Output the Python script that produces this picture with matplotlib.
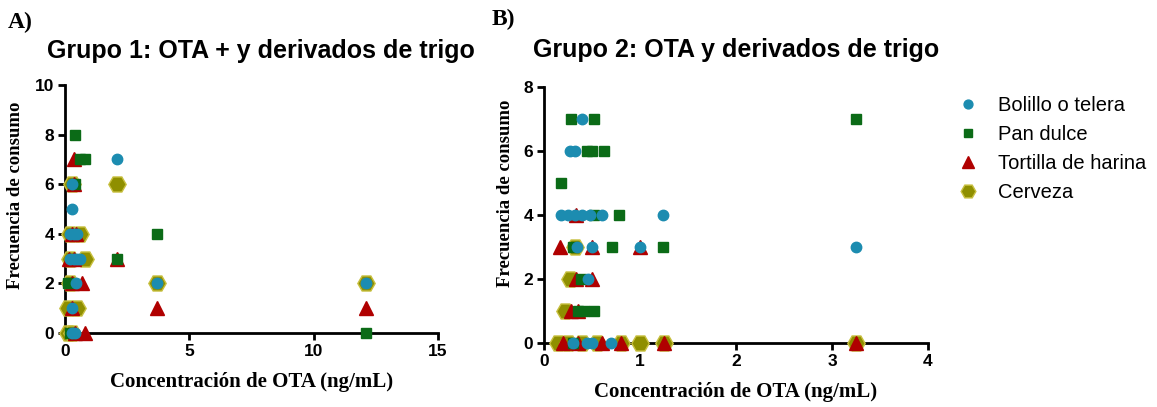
import matplotlib
matplotlib.use("Agg")
import matplotlib.pyplot as plt

# Grupo 1 (panel A): concentracion OTA (ng/mL) vs frecuencia de consumo
bolillo_a_x = [0.3, 0.3, 0.2, 0.35, 0.5, 0.2, 0.35, 0.5, 0.6, 0.45, 0.3, 0.3, 0.4, 2.1, 3.7, 12.1]
bolillo_a_y = [6, 5, 4, 4, 4, 3, 3, 3, 3, 2, 1, 0, 0, 7, 2, 2]
pan_a_x = [0.4, 0.6, 0.8, 0.4, 0.1, 0.2, 2.1, 3.7, 12.1]
pan_a_y = [8, 7, 7, 6, 2, 0, 3, 4, 0]
tortilla_a_x = [0.35, 0.35, 0.3, 0.45, 0.15, 0.35, 0.3, 0.7, 0.3, 0.4, 0.8, 2.1, 3.7, 12.1]
tortilla_a_y = [7, 6, 4, 4, 3, 3, 2, 2, 1, 0, 0, 3, 1, 1]
cerveza_a_x = [0.3, 0.2, 0.6, 0.2, 0.8, 0.2, 0.1, 0.5, 0.1, 0.3, 2.1, 3.7, 12.1]
cerveza_a_y = [6, 4, 4, 3, 3, 2, 1, 1, 0, 0, 6, 2, 2]

# Grupo 2 (panel B)
bolillo_b_x = [0.4, 0.27, 0.32, 0.18, 0.25, 0.32, 0.4, 0.48, 0.6, 1.24, 0.34, 0.5, 1.0, 3.25,
               0.46, 0.3, 0.45, 0.5, 0.7]
bolillo_b_y = [7, 6, 6, 4, 4, 4, 4, 4, 4, 4, 3, 3, 3, 3, 2, 0, 0, 0, 0]
pan_b_x = [0.28, 0.52, 3.25, 0.45, 0.5, 0.62, 0.18, 0.52, 0.78, 0.3, 0.71, 1.24, 0.38,
           0.35, 0.42, 0.52, 0.3]
pan_b_y = [7, 7, 7, 6, 6, 6, 5, 4, 4, 3, 3, 3, 2, 1, 1, 1, 0]
tortilla_b_x = [0.33, 0.17, 0.5, 1.0, 0.33, 0.5, 0.28, 0.35, 0.2, 0.35, 0.6, 0.8, 1.25, 3.25]
tortilla_b_y = [4, 3, 3, 3, 2, 2, 1, 1, 0, 0, 0, 0, 0, 0]
cerveza_b_x = [0.32, 0.27, 0.22, 0.15, 0.25, 0.4, 0.55, 0.8, 1.0, 1.25, 3.25]
cerveza_b_y = [3, 2, 1, 0, 0, 0, 0, 0, 0, 0, 0]

labels = ["Bolillo o telera", "Pan dulce", "Tortilla de harina", "Cerveza"]

# marker style per series: marker, size, face, edge, zorder
styles = [
    ("o", 7.5, "#1c8cb0", "#1c8cb0", 6),
    ("s", 7.5, "#0b6b17", "#0b6b17", 5),
    ("^", 10.5, "#b00000", "#b00000", 4),
    ("H", 12.5, "#8f8f00", "#c8c040", 3),
]

serif = ["Liberation Serif", "DejaVu Serif"]
sans = ["Liberation Sans", "DejaVu Sans"]

fig = plt.figure(figsize=(11.57, 4.07), dpi=100)
ax_a = fig.add_axes([0.0562, 0.182, 0.3224, 0.609])
ax_b = fig.add_axes([0.4702, 0.157, 0.3319, 0.629])

panels = [
    (ax_a, [(bolillo_a_x, bolillo_a_y), (pan_a_x, pan_a_y), (tortilla_a_x, tortilla_a_y),
            (cerveza_a_x, cerveza_a_y)],
     (0, 15), [0, 5, 10, 15], (0, 10), [0, 2, 4, 6, 8, 10], (-0.11, 0.556)),
    (ax_b, [(bolillo_b_x, bolillo_b_y), (pan_b_x, pan_b_y), (tortilla_b_x, tortilla_b_y),
            (cerveza_b_x, cerveza_b_y)],
     (0, 4), [0, 1, 2, 3, 4], (0, 8), [0, 2, 4, 6, 8], (-0.077, 0.586)),
]

handles = []
for ax, series, xlim, xticks, ylim, yticks, ylab_pos in panels:
    for (xs, ys), (mk, ms, fc, ec, z), lab in zip(series, styles, labels):
        h, = ax.plot(xs, ys, linestyle="none", marker=mk, markersize=ms,
                     markerfacecolor=fc, markeredgecolor=ec, markeredgewidth=1.0,
                     clip_on=False, zorder=z, label=lab)
        if ax is ax_b:
            handles.append(h)
    ax.set_xlim(*xlim)
    ax.set_ylim(*ylim)
    ax.set_xticks(xticks)
    ax.set_yticks(yticks)
    for side in ("top", "right"):
        ax.spines[side].set_visible(False)
    for side in ("left", "bottom"):
        ax.spines[side].set_linewidth(2)
        ax.spines[side].set_zorder(2)
    ax.tick_params(direction="out", length=5, width=2, pad=3)
    for lbl in ax.get_xticklabels() + ax.get_yticklabels():
        lbl.set_fontfamily(sans)
        lbl.set_fontweight("bold")
        lbl.set_fontsize(12.5)
    ax.set_xlabel("Concentración de OTA (ng/mL)", fontfamily=serif, fontweight="bold",
                  fontsize=15, labelpad=9)
    ax.set_ylabel("Frecuencia de consumo", fontfamily=serif, fontweight="bold",
                  fontsize=13.5)
    ax.yaxis.set_label_coords(*ylab_pos)

# panel titles and letters
fig.text(261 / 1157, 1 - 58 / 407, "Grupo 1: OTA + y derivados de trigo", fontfamily=sans,
         fontweight="bold", fontsize=18, ha="center", va="baseline")
fig.text(736 / 1157, 1 - 57 / 407, "Grupo 2: OTA y derivados de trigo", fontfamily=sans,
         fontweight="bold", fontsize=18, ha="center", va="baseline")
fig.text(0.007, 0.946, "A)", fontfamily=serif, fontweight="bold", fontsize=17, va="center")
fig.text(0.425, 0.953, "B)", fontfamily=serif, fontweight="bold", fontsize=17, va="center")

fig.legend(handles=handles, loc="upper left", bbox_to_anchor=(958 / 1157, 1 - 96 / 407),
           frameon=False, prop={"family": sans, "size": 14.5}, borderpad=0,
           borderaxespad=0, labelspacing=0.5, handlelength=1.0, handletextpad=1.0,
           markerscale=0.85)

fig.savefig("out.png", dpi=100)
